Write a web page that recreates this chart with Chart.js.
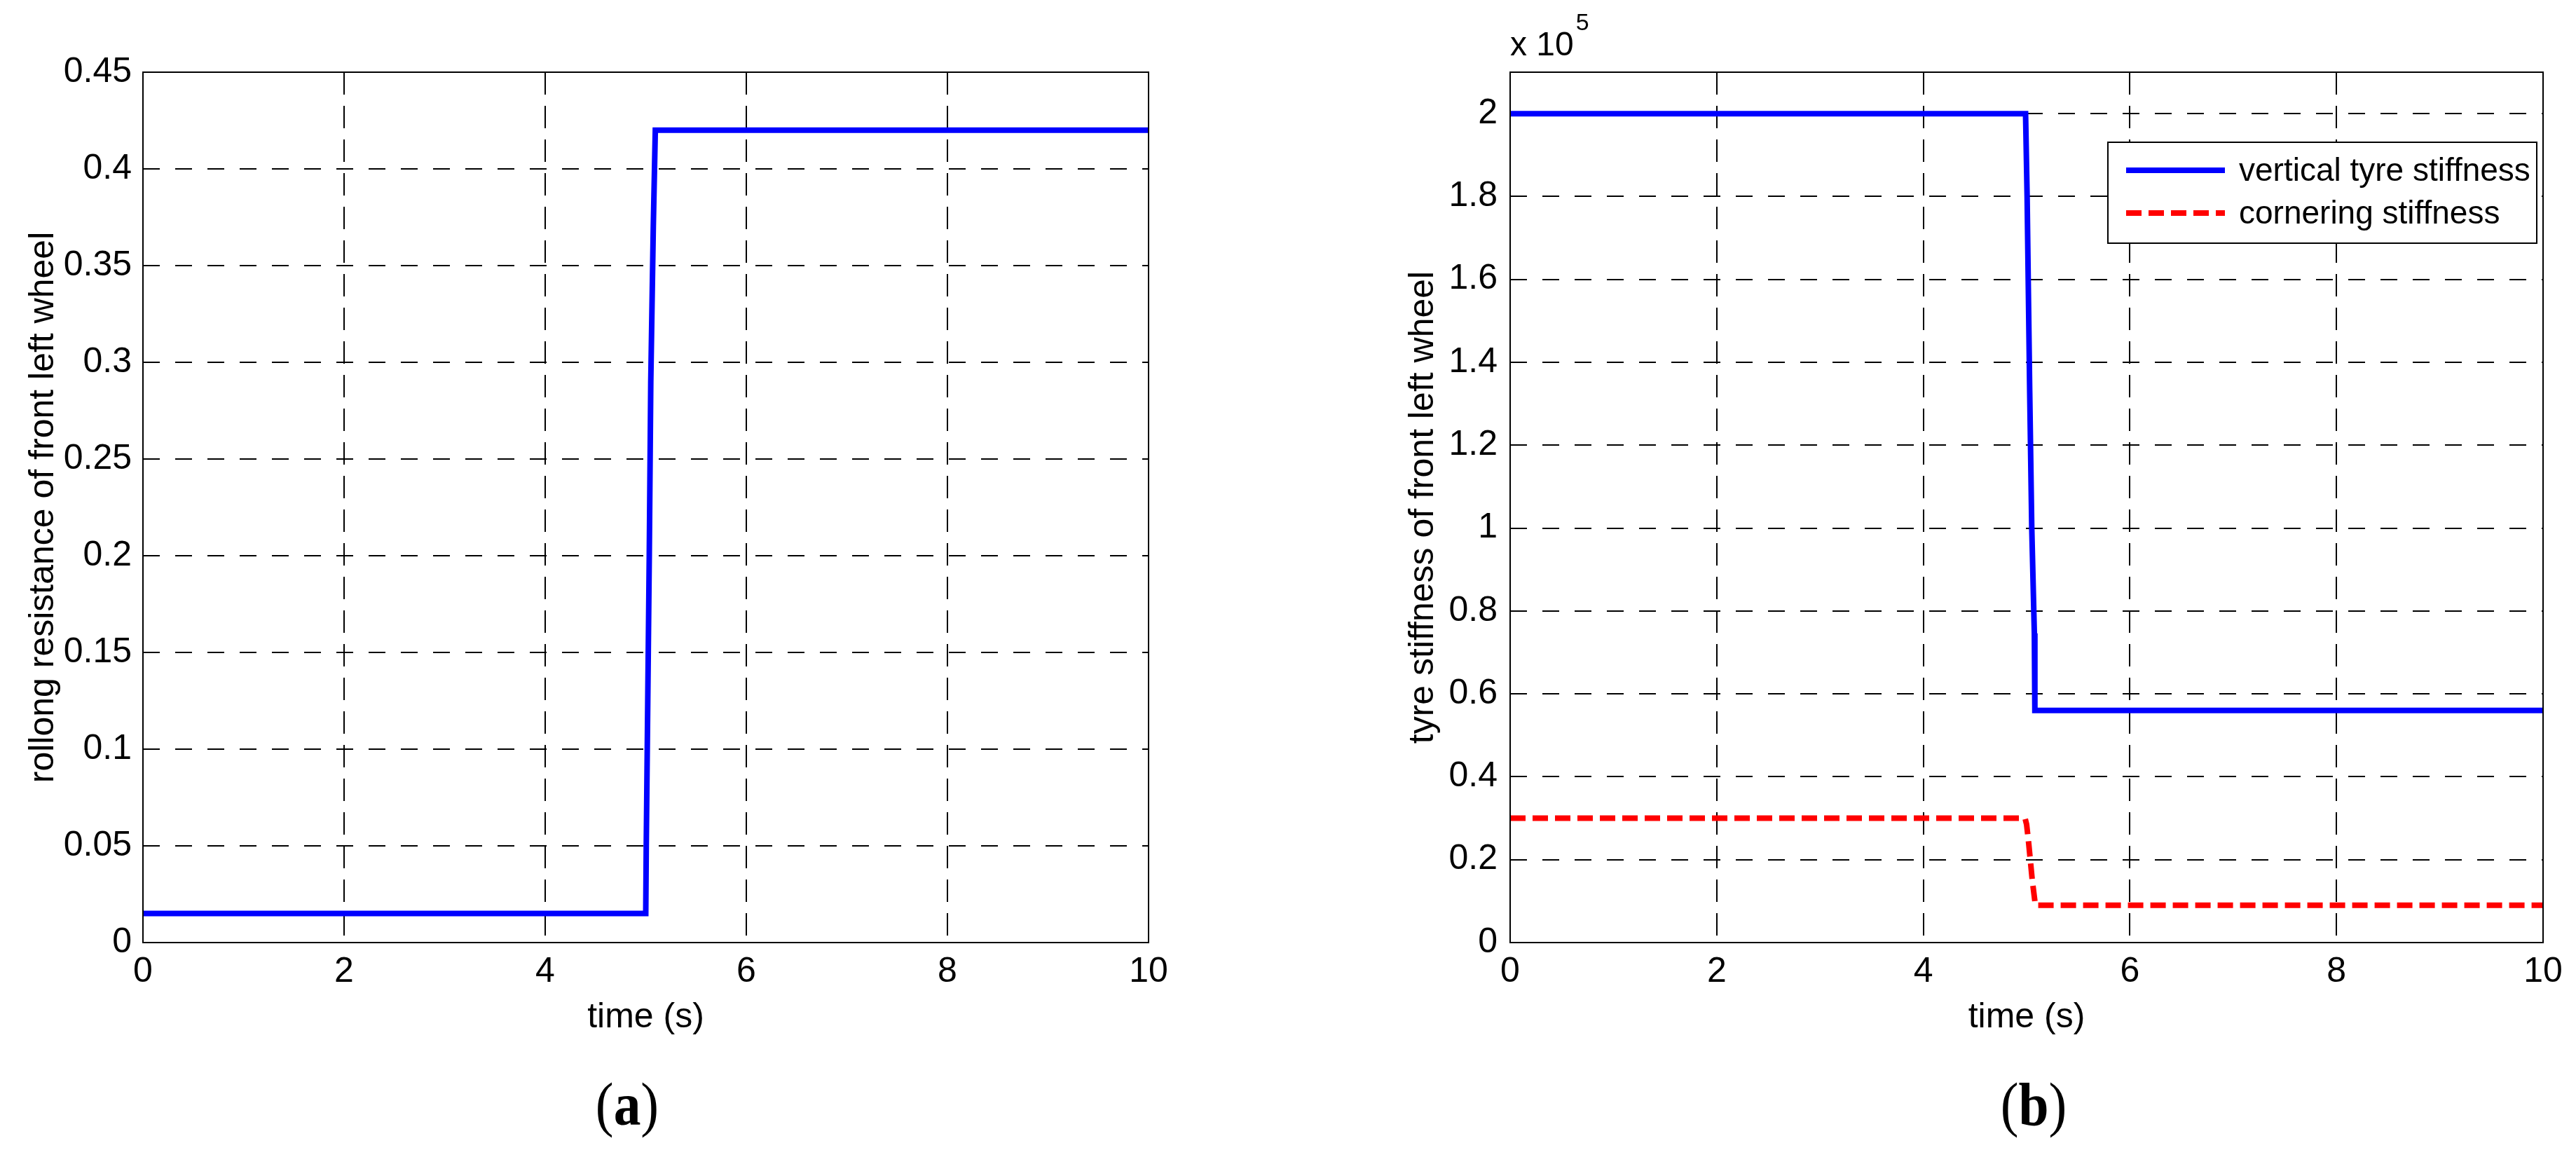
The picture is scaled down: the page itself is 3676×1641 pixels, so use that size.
<!DOCTYPE html>
<html>
<head>
<meta charset="utf-8">
<script src="https://cdn.jsdelivr.net/npm/chart.js@4.4.1/dist/chart.umd.min.js"></script>
<style>
  html, body { margin: 0; padding: 0; background: #fff; }
  body { width: 3676px; height: 1641px; position: relative; overflow: hidden; }
  .panel { position: absolute; top: 0; width: 1800px; height: 1641px; }
  #panelA { left: 0; }
  #panelB { left: 1876px; }
  .caption {
    position: absolute; top: 1533px;
    font-family: "Liberation Serif", "DejaVu Serif", serif;
    font-size: 86px; line-height: 86px; color: #000;
    transform: translateX(-50%) scaleX(0.9);
  }
</style>
</head>
<body>
<div class="panel" id="panelA"><canvas id="chartA"></canvas></div>
<div class="panel" id="panelB"><canvas id="chartB"></canvas></div>
<div class="caption" style="left: 895px;">(<b>a</b>)</div>
<div class="caption" style="left: 2902px;">(<b>b</b>)</div>

<script>
// (a) rolling resistance of front left wheel
const timeA = [0, 5.0, 5.005, 5.02, 5.035, 5.05, 5.075, 5.095, 10];
const rollingResistance = [0.015, 0.015, 0.05, 0.125, 0.2, 0.29, 0.37, 0.42, 0.42];

// (b) tyre stiffness of front left wheel (N/m)
const timeVertical = [0, 4.99, 5.005, 5.03, 5.05, 5.075, 5.08, 10];
const verticalStiffness = [200000, 200000, 180000, 133000, 100000, 74600, 56000, 56000];
const timeCornering = [0, 4.985, 5.0, 5.02, 5.055, 5.085, 10];
const corneringStiffness = [30000, 30000, 28500, 24000, 15000, 9000, 9000];

// tick labels
const xTicks = [0, 2, 4, 6, 8, 10];
const yTicksA = [0, 0.05, 0.1, 0.15, 0.2, 0.25, 0.3, 0.35, 0.4, 0.45];
const yTicksB = [0, 20000, 40000, 60000, 80000, 100000, 120000, 140000, 160000, 180000, 200000];
const yMaxB = 210000;
const yExponentB = 5;

const sans = '"Liberation Sans", Arial, sans-serif';
Chart.defaults.font.family = sans;
Chart.defaults.color = '#000';

function toPoints(xs, ys) {
    return xs.map((x, i) => ({ x: x, y: ys[i] }));
}

// plain black frame round the plot area, like a matlab axes box
const axesBox = {
    id: 'axesBox',
    afterDatasetsDraw(chart) {
        const { ctx, chartArea: a } = chart;
        ctx.save();
        ctx.strokeStyle = '#000';
        ctx.lineWidth = 2;
        ctx.strokeRect(a.left, a.top, a.right - a.left, a.bottom - a.top);
        ctx.restore();
    }
};

// legend box inside the top right of the plot
const insetLegend = {
    id: 'insetLegend',
    afterDraw(chart) {
        const { ctx, chartArea: a } = chart;
        const w = 612, h = 144;
        const x = a.right - 9 - w, y = a.top + 100;
        ctx.save();
        ctx.fillStyle = '#fff';
        ctx.fillRect(x, y, w, h);
        ctx.lineWidth = 2;
        ctx.strokeStyle = '#000';
        ctx.strokeRect(x, y, w, h);
        ctx.font = '46px ' + sans;
        ctx.textBaseline = 'middle';
        chart.data.datasets.forEach((ds, i) => {
            const ly = y + 40 + i * 61;
            ctx.strokeStyle = ds.borderColor;
            ctx.lineWidth = ds.borderWidth;
            ctx.setLineDash(ds.borderDash || []);
            ctx.beginPath();
            ctx.moveTo(x + 26, ly);
            ctx.lineTo(x + 167, ly);
            ctx.stroke();
            ctx.setLineDash([]);
            ctx.fillStyle = '#000';
            ctx.fillText(ds.label, x + 187, ly + 2);
        });
        ctx.restore();
    }
};

// "x 10^5" multiplier above the y axis
const exponentLabel = {
    id: 'exponentLabel',
    afterDraw(chart) {
        const { ctx, chartArea: a } = chart;
        ctx.save();
        ctx.fillStyle = '#000';
        ctx.textBaseline = 'alphabetic';
        ctx.font = '48px ' + sans;
        ctx.fillText('x 10', a.left, a.top - 24);
        const w = ctx.measureText('x 10').width;
        ctx.font = '34px ' + sans;
        ctx.fillText(String(yExponentB), a.left + w + 3, a.top - 60);
        ctx.restore();
    }
};

function makeOptions(cfg) {
    return {
        responsive: true,
        maintainAspectRatio: false,
        animation: false,
        devicePixelRatio: 1,
        layout: { padding: { top: 103, right: cfg.padRight, bottom: 156, left: 0 } },
        plugins: { legend: { display: false }, tooltip: { enabled: false } },
        elements: { point: { radius: 0 }, line: { tension: 0 } },
        scales: {
            x: {
                type: 'linear',
                min: 0,
                max: 10,
                afterFit: s => { s.height = 140; },
                afterBuildTicks: s => { s.ticks = xTicks.map(v => ({ value: v })); },
                ticks: { padding: 12, font: { size: 50 }, maxRotation: 0 },
                grid: { color: '#000', lineWidth: 2, drawTicks: false },
                border: { display: false, dash: [32, 16] },
                title: {
                    display: true,
                    text: 'time (s)',
                    font: { size: 50 },
                    padding: { top: 0, bottom: 3 }
                }
            },
            y: {
                min: 0,
                max: cfg.yMax,
                afterFit: s => { s.width = cfg.yWidth; },
                afterBuildTicks: s => { s.ticks = cfg.yTicks.map(v => ({ value: v })); },
                ticks: { padding: cfg.yPad, font: { size: 50 }, callback: cfg.yLabel },
                grid: { color: '#000', lineWidth: 2, drawTicks: false },
                border: { display: false, dash: [24, 22] },
                title: {
                    display: true,
                    text: cfg.yTitle,
                    font: { size: 50 },
                    padding: { top: cfg.yTitlePad, bottom: 0 }
                }
            }
        }
    };
}

new Chart(document.getElementById('chartA'), {
    type: 'line',
    data: {
        datasets: [{
            label: 'rolling resistance',
            data: toPoints(timeA, rollingResistance),
            borderColor: '#0000ff',
            borderWidth: 8,
            borderCapStyle: 'butt'
        }]
    },
    options: makeOptions({
        padRight: 161,
        yWidth: 204,
        yPad: 16,
        yMax: 0.45,
        yTicks: yTicksA,
        yLabel: v => String(v),
        yTitle: 'rollong resistance of front left wheel',
        yTitlePad: 32
    }),
    plugins: [axesBox]
});

new Chart(document.getElementById('chartB'), {
    type: 'line',
    data: {
        datasets: [{
            label: 'vertical tyre stiffness',
            data: toPoints(timeVertical, verticalStiffness),
            borderColor: '#0000ff',
            borderWidth: 8,
            borderCapStyle: 'butt'
        }, {
            label: 'cornering stiffness',
            data: toPoints(timeCornering, corneringStiffness),
            borderColor: '#ff0000',
            borderWidth: 8,
            borderDash: [22, 10],
            borderCapStyle: 'butt'
        }]
    },
    options: makeOptions({
        padRight: 47,
        yWidth: 279,
        yPad: 18,
        yMax: yMaxB,
        yTicks: yTicksB,
        yLabel: v => String(+(v / Math.pow(10, yExponentB)).toFixed(1)),
        yTitle: 'tyre stiffness of front left wheel',
        yTitlePad: 125
    }),
    plugins: [axesBox, insetLegend, exponentLabel]
});
</script>
</body>
</html>
